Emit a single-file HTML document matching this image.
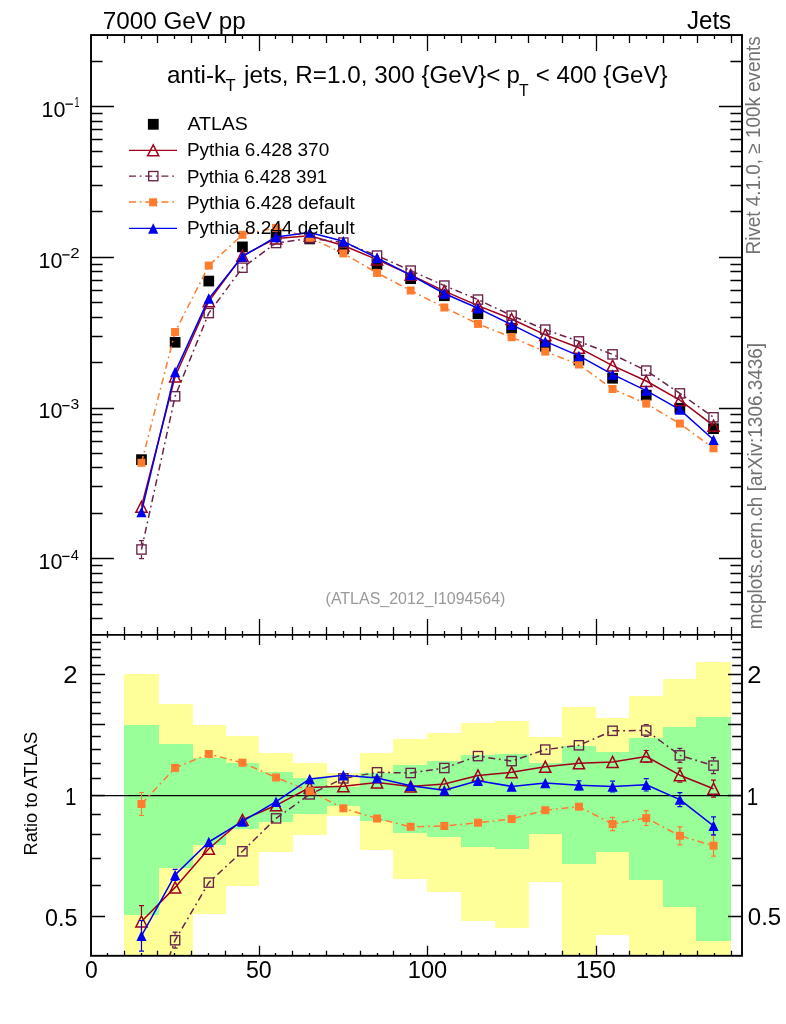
<!DOCTYPE html>
<html><head><meta charset="utf-8"><style>
html,body{margin:0;padding:0;background:#fff;width:786px;height:1024px;overflow:hidden;}
svg{display:block;will-change:transform;font-family:"Liberation Sans",sans-serif;}
</style></head><body>
<svg width="786" height="1024" viewBox="0 0 786 1024" font-family="Liberation Sans, sans-serif">
<rect width="786" height="1024" fill="#fff"/>
<defs><clipPath id="cu"><rect x="91.0" y="35.05" width="651.0" height="599.85"/></clipPath><clipPath id="cl"><rect x="91.0" y="634.9" width="651.0" height="320.9"/></clipPath></defs>
<g clip-path="url(#cl)">
<path d="M124,674H159V960H124ZM159,704H193V960H159ZM193,725H226V914H193ZM226,736H259V886H226ZM259,753H293V852H259ZM293,763H327V835H293ZM327,773H360V816H327ZM360,753H393V850H360ZM393,739H427V879H393ZM427,733H461V892H427ZM461,723H495V921H461ZM495,721H529V928H495ZM529,737H562V882H529ZM562,707H596V960H562ZM596,718H629V935H596ZM629,696H663V960H629ZM663,679H696V960H663ZM696,662H731V960H696Z" fill="#ffff99" shape-rendering="crispEdges"/>
<path d="M124,725H159V915H124ZM159,744H193V868H159ZM193,758H226V845H193ZM226,763H259V829H226ZM259,772H293V822H259ZM293,778H327V814H293ZM327,787H360V806H327ZM360,773H393V821H360ZM393,765H427V833H393ZM427,761H461V837H427ZM461,755H495V847H461ZM495,754H529V849H495ZM529,763H562V834H529ZM562,746H596V864H562ZM596,752H629V852H596ZM629,738H663V880H629ZM663,727H696V907H663ZM696,717H731V941H696Z" fill="#99ff99" shape-rendering="crispEdges"/>
<line x1="91.0" y1="795.6" x2="742.0" y2="795.6" stroke="#000" stroke-width="1.2"/>
</g>
<g clip-path="url(#cu)">
<rect x="136.12" y="454.29" width="10.7" height="10.7" fill="#000"/>
<rect x="169.78" y="336.94" width="10.7" height="10.7" fill="#000"/>
<rect x="203.43" y="275.72" width="10.7" height="10.7" fill="#000"/>
<rect x="237.08" y="241.52" width="10.7" height="10.7" fill="#000"/>
<rect x="270.73" y="229.28" width="10.7" height="10.7" fill="#000"/>
<rect x="304.38" y="233.59" width="10.7" height="10.7" fill="#000"/>
<rect x="338.02" y="243.54" width="10.7" height="10.7" fill="#000"/>
<rect x="371.68" y="259.06" width="10.7" height="10.7" fill="#000"/>
<rect x="405.32" y="273.36" width="10.7" height="10.7" fill="#000"/>
<rect x="438.98" y="290.39" width="10.7" height="10.7" fill="#000"/>
<rect x="472.62" y="308.43" width="10.7" height="10.7" fill="#000"/>
<rect x="506.27" y="322.85" width="10.7" height="10.7" fill="#000"/>
<rect x="539.93" y="340.85" width="10.7" height="10.7" fill="#000"/>
<rect x="573.57" y="354.70" width="10.7" height="10.7" fill="#000"/>
<rect x="607.23" y="372.90" width="10.7" height="10.7" fill="#000"/>
<rect x="640.88" y="389.75" width="10.7" height="10.7" fill="#000"/>
<rect x="674.52" y="402.88" width="10.7" height="10.7" fill="#000"/>
<rect x="708.18" y="423.34" width="10.7" height="10.7" fill="#000"/>
<polyline points="141.47,506.80 175.12,376.50 208.78,301.20 242.43,255.70 276.08,238.40 309.73,235.80 343.38,245.50 377.03,259.60 410.68,274.80 444.33,291.10 477.98,305.60 511.62,319.00 545.28,334.90 578.92,347.80 612.58,365.60 646.23,381.00 679.88,400.20 713.53,425.70" fill="none" stroke="#a0001c" stroke-width="1.5" stroke-linejoin="round"/>
<polygon points="141.47,501.30 147.07,512.30 135.88,512.30" fill="none" stroke="#a0001c" stroke-width="1.5" stroke-linejoin="miter"/>
<polygon points="175.12,371.00 180.72,382.00 169.53,382.00" fill="none" stroke="#a0001c" stroke-width="1.5" stroke-linejoin="miter"/>
<polygon points="208.78,295.70 214.38,306.70 203.18,306.70" fill="none" stroke="#a0001c" stroke-width="1.5" stroke-linejoin="miter"/>
<polygon points="242.43,250.20 248.03,261.20 236.83,261.20" fill="none" stroke="#a0001c" stroke-width="1.5" stroke-linejoin="miter"/>
<polygon points="276.08,232.90 281.68,243.90 270.48,243.90" fill="none" stroke="#a0001c" stroke-width="1.5" stroke-linejoin="miter"/>
<polygon points="309.73,230.30 315.33,241.30 304.12,241.30" fill="none" stroke="#a0001c" stroke-width="1.5" stroke-linejoin="miter"/>
<polygon points="343.38,240.00 348.98,251.00 337.77,251.00" fill="none" stroke="#a0001c" stroke-width="1.5" stroke-linejoin="miter"/>
<polygon points="377.03,254.10 382.63,265.10 371.43,265.10" fill="none" stroke="#a0001c" stroke-width="1.5" stroke-linejoin="miter"/>
<polygon points="410.68,269.30 416.28,280.30 405.07,280.30" fill="none" stroke="#a0001c" stroke-width="1.5" stroke-linejoin="miter"/>
<polygon points="444.33,285.60 449.93,296.60 438.73,296.60" fill="none" stroke="#a0001c" stroke-width="1.5" stroke-linejoin="miter"/>
<polygon points="477.98,300.10 483.58,311.10 472.38,311.10" fill="none" stroke="#a0001c" stroke-width="1.5" stroke-linejoin="miter"/>
<polygon points="511.62,313.50 517.23,324.50 506.02,324.50" fill="none" stroke="#a0001c" stroke-width="1.5" stroke-linejoin="miter"/>
<polygon points="545.28,329.40 550.88,340.40 539.68,340.40" fill="none" stroke="#a0001c" stroke-width="1.5" stroke-linejoin="miter"/>
<polygon points="578.92,342.30 584.52,353.30 573.32,353.30" fill="none" stroke="#a0001c" stroke-width="1.5" stroke-linejoin="miter"/>
<polygon points="612.58,360.10 618.18,371.10 606.98,371.10" fill="none" stroke="#a0001c" stroke-width="1.5" stroke-linejoin="miter"/>
<polygon points="646.23,375.50 651.83,386.50 640.62,386.50" fill="none" stroke="#a0001c" stroke-width="1.5" stroke-linejoin="miter"/>
<polygon points="679.88,394.70 685.48,405.70 674.27,405.70" fill="none" stroke="#a0001c" stroke-width="1.5" stroke-linejoin="miter"/>
<polygon points="713.53,420.20 719.13,431.20 707.93,431.20" fill="none" stroke="#a0001c" stroke-width="1.5" stroke-linejoin="miter"/>
<polyline points="141.47,549.50 175.12,396.30 208.78,313.10 242.43,267.70 276.08,243.00 309.73,238.30 343.38,242.60 377.03,255.60 410.68,270.60 444.33,285.60 477.98,299.60 511.62,315.60 545.28,329.60 578.92,341.40 612.58,354.40 646.23,370.60 679.88,393.40 713.53,417.30" fill="none" stroke="#6a2249" stroke-width="1.5" stroke-dasharray="7 3.7 1.8 3.7" stroke-linejoin="round"/>
<path d="M138.97,540.60H143.97M138.97,558.60H143.97M141.47,540.60V544.20M141.47,555.00V558.60" stroke="#6a2249" stroke-width="1.2" fill="none"/>
<rect x="136.85" y="544.88" width="9.25" height="9.25" fill="none" stroke="#6a2249" stroke-width="1.35"/>
<rect x="170.50" y="391.68" width="9.25" height="9.25" fill="none" stroke="#6a2249" stroke-width="1.35"/>
<rect x="204.15" y="308.48" width="9.25" height="9.25" fill="none" stroke="#6a2249" stroke-width="1.35"/>
<rect x="237.80" y="263.07" width="9.25" height="9.25" fill="none" stroke="#6a2249" stroke-width="1.35"/>
<rect x="271.45" y="238.38" width="9.25" height="9.25" fill="none" stroke="#6a2249" stroke-width="1.35"/>
<rect x="305.10" y="233.68" width="9.25" height="9.25" fill="none" stroke="#6a2249" stroke-width="1.35"/>
<rect x="338.75" y="237.97" width="9.25" height="9.25" fill="none" stroke="#6a2249" stroke-width="1.35"/>
<rect x="372.40" y="250.97" width="9.25" height="9.25" fill="none" stroke="#6a2249" stroke-width="1.35"/>
<rect x="406.05" y="265.98" width="9.25" height="9.25" fill="none" stroke="#6a2249" stroke-width="1.35"/>
<rect x="439.70" y="280.98" width="9.25" height="9.25" fill="none" stroke="#6a2249" stroke-width="1.35"/>
<rect x="473.35" y="294.98" width="9.25" height="9.25" fill="none" stroke="#6a2249" stroke-width="1.35"/>
<rect x="507.00" y="310.98" width="9.25" height="9.25" fill="none" stroke="#6a2249" stroke-width="1.35"/>
<rect x="540.65" y="324.98" width="9.25" height="9.25" fill="none" stroke="#6a2249" stroke-width="1.35"/>
<rect x="574.30" y="336.77" width="9.25" height="9.25" fill="none" stroke="#6a2249" stroke-width="1.35"/>
<rect x="607.95" y="349.77" width="9.25" height="9.25" fill="none" stroke="#6a2249" stroke-width="1.35"/>
<rect x="641.60" y="365.98" width="9.25" height="9.25" fill="none" stroke="#6a2249" stroke-width="1.35"/>
<rect x="675.25" y="388.77" width="9.25" height="9.25" fill="none" stroke="#6a2249" stroke-width="1.35"/>
<rect x="708.90" y="412.68" width="9.25" height="9.25" fill="none" stroke="#6a2249" stroke-width="1.35"/>
<polyline points="141.47,462.80 175.12,332.00 208.78,265.60 242.43,234.80 276.08,227.90 309.73,237.80 343.38,253.40 377.03,272.90 410.68,290.50 444.33,307.50 477.98,323.90 511.62,337.20 545.28,351.60 578.92,364.50 612.58,389.00 646.23,403.60 679.88,423.60 713.53,448.30" fill="none" stroke="#ff7b2e" stroke-width="1.5" stroke-dasharray="7 3.7 1.8 3.7" stroke-linejoin="round"/>
<rect x="137.47" y="458.80" width="8" height="8" fill="#ff7b2e"/>
<rect x="171.12" y="328.00" width="8" height="8" fill="#ff7b2e"/>
<rect x="204.78" y="261.60" width="8" height="8" fill="#ff7b2e"/>
<rect x="238.43" y="230.80" width="8" height="8" fill="#ff7b2e"/>
<rect x="272.08" y="223.90" width="8" height="8" fill="#ff7b2e"/>
<rect x="305.73" y="233.80" width="8" height="8" fill="#ff7b2e"/>
<rect x="339.38" y="249.40" width="8" height="8" fill="#ff7b2e"/>
<rect x="373.03" y="268.90" width="8" height="8" fill="#ff7b2e"/>
<rect x="406.68" y="286.50" width="8" height="8" fill="#ff7b2e"/>
<rect x="440.33" y="303.50" width="8" height="8" fill="#ff7b2e"/>
<rect x="473.98" y="319.90" width="8" height="8" fill="#ff7b2e"/>
<rect x="507.62" y="333.20" width="8" height="8" fill="#ff7b2e"/>
<rect x="541.28" y="347.60" width="8" height="8" fill="#ff7b2e"/>
<rect x="574.92" y="360.50" width="8" height="8" fill="#ff7b2e"/>
<rect x="608.58" y="385.00" width="8" height="8" fill="#ff7b2e"/>
<rect x="642.23" y="399.60" width="8" height="8" fill="#ff7b2e"/>
<rect x="675.88" y="419.60" width="8" height="8" fill="#ff7b2e"/>
<rect x="709.53" y="444.30" width="8" height="8" fill="#ff7b2e"/>
<polyline points="141.47,512.00 175.12,372.10 208.78,298.60 242.43,256.50 276.08,236.90 309.73,232.50 343.38,241.30 377.03,257.90 410.68,275.10 444.33,293.50 477.98,308.30 511.62,324.70 545.28,341.40 578.92,355.90 612.58,374.40 646.23,390.60 679.88,409.60 713.53,439.70" fill="none" stroke="#0000f0" stroke-width="1.5" stroke-linejoin="round"/>
<polygon points="141.47,506.75 146.57,517.25 136.38,517.25" fill="#0000f0"/>
<polygon points="175.12,366.85 180.22,377.35 170.03,377.35" fill="#0000f0"/>
<polygon points="208.78,293.35 213.88,303.85 203.68,303.85" fill="#0000f0"/>
<polygon points="242.43,251.25 247.53,261.75 237.33,261.75" fill="#0000f0"/>
<polygon points="276.08,231.65 281.18,242.15 270.98,242.15" fill="#0000f0"/>
<polygon points="309.73,227.25 314.83,237.75 304.62,237.75" fill="#0000f0"/>
<polygon points="343.38,236.05 348.48,246.55 338.27,246.55" fill="#0000f0"/>
<polygon points="377.03,252.65 382.13,263.15 371.93,263.15" fill="#0000f0"/>
<polygon points="410.68,269.85 415.78,280.35 405.57,280.35" fill="#0000f0"/>
<polygon points="444.33,288.25 449.43,298.75 439.23,298.75" fill="#0000f0"/>
<polygon points="477.98,303.05 483.08,313.55 472.88,313.55" fill="#0000f0"/>
<polygon points="511.62,319.45 516.73,329.95 506.52,329.95" fill="#0000f0"/>
<polygon points="545.28,336.15 550.38,346.65 540.18,346.65" fill="#0000f0"/>
<polygon points="578.92,350.65 584.02,361.15 573.82,361.15" fill="#0000f0"/>
<polygon points="612.58,369.15 617.68,379.65 607.48,379.65" fill="#0000f0"/>
<polygon points="646.23,385.35 651.33,395.85 641.12,395.85" fill="#0000f0"/>
<polygon points="679.88,404.35 684.98,414.85 674.77,414.85" fill="#0000f0"/>
<polygon points="713.53,434.45 718.63,444.95 708.43,444.95" fill="#0000f0"/>
</g>
<g clip-path="url(#cl)">
<polyline points="141.47,921.50 175.12,887.40 208.78,848.70 242.43,819.80 276.08,805.30 309.73,787.50 343.38,786.30 377.03,782.40 410.68,786.60 444.33,784.00 477.98,775.40 511.62,772.30 545.28,766.70 578.92,763.30 612.58,761.90 646.23,756.50 679.88,775.20 713.53,788.70" fill="none" stroke="#a0001c" stroke-width="1.5" stroke-linejoin="round"/>
<path d="M138.97,905.70H143.97M138.97,937.30H143.97M141.47,905.70V915.30M141.47,927.70V937.30" stroke="#a0001c" stroke-width="1.2" fill="none"/>
<polygon points="141.47,916.00 147.07,927.00 135.88,927.00" fill="none" stroke="#a0001c" stroke-width="1.5" stroke-linejoin="miter"/>
<polygon points="175.12,881.90 180.72,892.90 169.53,892.90" fill="none" stroke="#a0001c" stroke-width="1.5" stroke-linejoin="miter"/>
<polygon points="208.78,843.20 214.38,854.20 203.18,854.20" fill="none" stroke="#a0001c" stroke-width="1.5" stroke-linejoin="miter"/>
<polygon points="242.43,814.30 248.03,825.30 236.83,825.30" fill="none" stroke="#a0001c" stroke-width="1.5" stroke-linejoin="miter"/>
<polygon points="276.08,799.80 281.68,810.80 270.48,810.80" fill="none" stroke="#a0001c" stroke-width="1.5" stroke-linejoin="miter"/>
<polygon points="309.73,782.00 315.33,793.00 304.12,793.00" fill="none" stroke="#a0001c" stroke-width="1.5" stroke-linejoin="miter"/>
<polygon points="343.38,780.80 348.98,791.80 337.77,791.80" fill="none" stroke="#a0001c" stroke-width="1.5" stroke-linejoin="miter"/>
<polygon points="377.03,776.90 382.63,787.90 371.43,787.90" fill="none" stroke="#a0001c" stroke-width="1.5" stroke-linejoin="miter"/>
<polygon points="410.68,781.10 416.28,792.10 405.07,792.10" fill="none" stroke="#a0001c" stroke-width="1.5" stroke-linejoin="miter"/>
<polygon points="444.33,778.50 449.93,789.50 438.73,789.50" fill="none" stroke="#a0001c" stroke-width="1.5" stroke-linejoin="miter"/>
<polygon points="477.98,769.90 483.58,780.90 472.38,780.90" fill="none" stroke="#a0001c" stroke-width="1.5" stroke-linejoin="miter"/>
<polygon points="511.62,766.80 517.23,777.80 506.02,777.80" fill="none" stroke="#a0001c" stroke-width="1.5" stroke-linejoin="miter"/>
<polygon points="545.28,761.20 550.88,772.20 539.68,772.20" fill="none" stroke="#a0001c" stroke-width="1.5" stroke-linejoin="miter"/>
<polygon points="578.92,757.80 584.52,768.80 573.32,768.80" fill="none" stroke="#a0001c" stroke-width="1.5" stroke-linejoin="miter"/>
<polygon points="612.58,756.40 618.18,767.40 606.98,767.40" fill="none" stroke="#a0001c" stroke-width="1.5" stroke-linejoin="miter"/>
<path d="M643.73,750.50H648.73M643.73,762.50H648.73" stroke="#a0001c" stroke-width="1.2" fill="none"/>
<polygon points="646.23,751.00 651.83,762.00 640.62,762.00" fill="none" stroke="#a0001c" stroke-width="1.5" stroke-linejoin="miter"/>
<path d="M677.38,768.20H682.38M677.38,782.20H682.38M679.88,768.20V769.00M679.88,781.40V782.20" stroke="#a0001c" stroke-width="1.2" fill="none"/>
<polygon points="679.88,769.70 685.48,780.70 674.27,780.70" fill="none" stroke="#a0001c" stroke-width="1.5" stroke-linejoin="miter"/>
<path d="M711.03,780.20H716.03M711.03,797.20H716.03M713.53,780.20V782.50M713.53,794.90V797.20" stroke="#a0001c" stroke-width="1.2" fill="none"/>
<polygon points="713.53,783.20 719.13,794.20 707.93,794.20" fill="none" stroke="#a0001c" stroke-width="1.5" stroke-linejoin="miter"/>
<polyline points="141.47,1034.00 175.12,940.20 208.78,882.60 242.43,851.30 276.08,818.40 309.73,794.40 343.38,778.40 377.03,772.30 410.68,773.00 444.33,768.00 477.98,756.10 511.62,761.10 545.28,749.60 578.92,745.30 612.58,730.80 646.23,730.50 679.88,755.40 713.53,765.60" fill="none" stroke="#6a2249" stroke-width="1.5" stroke-dasharray="7 3.7 1.8 3.7" stroke-linejoin="round"/>
<rect x="136.85" y="1029.38" width="9.25" height="9.25" fill="none" stroke="#6a2249" stroke-width="1.35"/>
<path d="M172.62,932.20H177.62M172.62,948.20H177.62M175.12,932.20V934.80M175.12,945.60V948.20" stroke="#6a2249" stroke-width="1.2" fill="none"/>
<rect x="170.50" y="935.58" width="9.25" height="9.25" fill="none" stroke="#6a2249" stroke-width="1.35"/>
<rect x="204.15" y="877.98" width="9.25" height="9.25" fill="none" stroke="#6a2249" stroke-width="1.35"/>
<rect x="237.80" y="846.67" width="9.25" height="9.25" fill="none" stroke="#6a2249" stroke-width="1.35"/>
<rect x="271.45" y="813.77" width="9.25" height="9.25" fill="none" stroke="#6a2249" stroke-width="1.35"/>
<rect x="305.10" y="789.77" width="9.25" height="9.25" fill="none" stroke="#6a2249" stroke-width="1.35"/>
<rect x="338.75" y="773.77" width="9.25" height="9.25" fill="none" stroke="#6a2249" stroke-width="1.35"/>
<rect x="372.40" y="767.67" width="9.25" height="9.25" fill="none" stroke="#6a2249" stroke-width="1.35"/>
<rect x="406.05" y="768.38" width="9.25" height="9.25" fill="none" stroke="#6a2249" stroke-width="1.35"/>
<rect x="439.70" y="763.38" width="9.25" height="9.25" fill="none" stroke="#6a2249" stroke-width="1.35"/>
<rect x="473.35" y="751.48" width="9.25" height="9.25" fill="none" stroke="#6a2249" stroke-width="1.35"/>
<rect x="507.00" y="756.48" width="9.25" height="9.25" fill="none" stroke="#6a2249" stroke-width="1.35"/>
<rect x="540.65" y="744.98" width="9.25" height="9.25" fill="none" stroke="#6a2249" stroke-width="1.35"/>
<rect x="574.30" y="740.67" width="9.25" height="9.25" fill="none" stroke="#6a2249" stroke-width="1.35"/>
<rect x="607.95" y="726.17" width="9.25" height="9.25" fill="none" stroke="#6a2249" stroke-width="1.35"/>
<path d="M643.73,724.50H648.73M643.73,736.50H648.73M646.23,724.50V725.10M646.23,735.90V736.50" stroke="#6a2249" stroke-width="1.2" fill="none"/>
<rect x="641.60" y="725.88" width="9.25" height="9.25" fill="none" stroke="#6a2249" stroke-width="1.35"/>
<path d="M677.38,748.40H682.38M677.38,762.40H682.38M679.88,748.40V750.00M679.88,760.80V762.40" stroke="#6a2249" stroke-width="1.2" fill="none"/>
<rect x="675.25" y="750.77" width="9.25" height="9.25" fill="none" stroke="#6a2249" stroke-width="1.35"/>
<path d="M711.03,757.60H716.03M711.03,773.60H716.03M713.53,757.60V760.20M713.53,771.00V773.60" stroke="#6a2249" stroke-width="1.2" fill="none"/>
<rect x="708.90" y="760.98" width="9.25" height="9.25" fill="none" stroke="#6a2249" stroke-width="1.35"/>
<polyline points="141.47,804.00 175.12,767.90 208.78,754.00 242.43,762.70 276.08,777.50 309.73,791.20 343.38,808.30 377.03,818.50 410.68,826.80 444.33,826.00 477.98,822.70 511.62,819.00 545.28,810.20 578.92,806.70 612.58,824.00 646.23,818.10 679.88,835.80 713.53,845.70" fill="none" stroke="#ff7b2e" stroke-width="1.5" stroke-dasharray="7 3.7 1.8 3.7" stroke-linejoin="round"/>
<path d="M138.97,792.50H143.97M138.97,815.50H143.97M141.47,792.50V800.00M141.47,808.00V815.50" stroke="#ff7b2e" stroke-width="1.2" fill="none"/>
<rect x="137.47" y="800.00" width="8" height="8" fill="#ff7b2e"/>
<rect x="171.12" y="763.90" width="8" height="8" fill="#ff7b2e"/>
<rect x="204.78" y="750.00" width="8" height="8" fill="#ff7b2e"/>
<rect x="238.43" y="758.70" width="8" height="8" fill="#ff7b2e"/>
<rect x="272.08" y="773.50" width="8" height="8" fill="#ff7b2e"/>
<rect x="305.73" y="787.20" width="8" height="8" fill="#ff7b2e"/>
<rect x="339.38" y="804.30" width="8" height="8" fill="#ff7b2e"/>
<rect x="373.03" y="814.50" width="8" height="8" fill="#ff7b2e"/>
<rect x="406.68" y="822.80" width="8" height="8" fill="#ff7b2e"/>
<rect x="440.33" y="822.00" width="8" height="8" fill="#ff7b2e"/>
<rect x="473.98" y="818.70" width="8" height="8" fill="#ff7b2e"/>
<rect x="507.62" y="815.00" width="8" height="8" fill="#ff7b2e"/>
<rect x="541.28" y="806.20" width="8" height="8" fill="#ff7b2e"/>
<rect x="574.92" y="802.70" width="8" height="8" fill="#ff7b2e"/>
<path d="M610.08,817.30H615.08M610.08,830.70H615.08M612.58,817.30V820.00M612.58,828.00V830.70" stroke="#ff7b2e" stroke-width="1.2" fill="none"/>
<rect x="608.58" y="820.00" width="8" height="8" fill="#ff7b2e"/>
<path d="M643.73,810.70H648.73M643.73,825.50H648.73M646.23,810.70V814.10M646.23,822.10V825.50" stroke="#ff7b2e" stroke-width="1.2" fill="none"/>
<rect x="642.23" y="814.10" width="8" height="8" fill="#ff7b2e"/>
<path d="M677.38,826.80H682.38M677.38,844.80H682.38M679.88,826.80V831.80M679.88,839.80V844.80" stroke="#ff7b2e" stroke-width="1.2" fill="none"/>
<rect x="675.88" y="831.80" width="8" height="8" fill="#ff7b2e"/>
<path d="M711.03,835.30H716.03M711.03,856.10H716.03M713.53,835.30V841.70M713.53,849.70V856.10" stroke="#ff7b2e" stroke-width="1.2" fill="none"/>
<rect x="709.53" y="841.70" width="8" height="8" fill="#ff7b2e"/>
<polyline points="141.47,935.80 175.12,874.90 208.78,842.00 242.43,821.40 276.08,801.70 309.73,778.90 343.38,775.30 377.03,778.10 410.68,785.70 444.33,790.30 477.98,780.80 511.62,786.40 545.28,782.90 578.92,785.30 612.58,786.60 646.23,784.80 679.88,799.60 713.53,825.80" fill="none" stroke="#0000f0" stroke-width="1.5" stroke-linejoin="round"/>
<path d="M138.97,920.50H143.97M138.97,951.10H143.97M141.47,920.50V930.60M141.47,941.00V951.10" stroke="#0000f0" stroke-width="1.2" fill="none"/>
<polygon points="141.47,930.55 146.57,941.05 136.38,941.05" fill="#0000f0"/>
<path d="M172.62,869.40H177.62M172.62,880.40H177.62M175.12,869.40V869.70M175.12,880.10V880.40" stroke="#0000f0" stroke-width="1.2" fill="none"/>
<polygon points="175.12,869.65 180.22,880.15 170.03,880.15" fill="#0000f0"/>
<polygon points="208.78,836.75 213.88,847.25 203.68,847.25" fill="#0000f0"/>
<polygon points="242.43,816.15 247.53,826.65 237.33,826.65" fill="#0000f0"/>
<polygon points="276.08,796.45 281.18,806.95 270.98,806.95" fill="#0000f0"/>
<polygon points="309.73,773.65 314.83,784.15 304.62,784.15" fill="#0000f0"/>
<polygon points="343.38,770.05 348.48,780.55 338.27,780.55" fill="#0000f0"/>
<polygon points="377.03,772.85 382.13,783.35 371.93,783.35" fill="#0000f0"/>
<polygon points="410.68,780.45 415.78,790.95 405.57,790.95" fill="#0000f0"/>
<polygon points="444.33,785.05 449.43,795.55 439.23,795.55" fill="#0000f0"/>
<polygon points="477.98,775.55 483.08,786.05 472.88,786.05" fill="#0000f0"/>
<polygon points="511.62,781.15 516.73,791.65 506.52,791.65" fill="#0000f0"/>
<polygon points="545.28,777.65 550.38,788.15 540.18,788.15" fill="#0000f0"/>
<path d="M576.42,780.80H581.42M576.42,789.80H581.42" stroke="#0000f0" stroke-width="1.2" fill="none"/>
<polygon points="578.92,780.05 584.02,790.55 573.82,790.55" fill="#0000f0"/>
<path d="M610.08,781.20H615.08M610.08,792.00H615.08M612.58,781.20V781.40M612.58,791.80V792.00" stroke="#0000f0" stroke-width="1.2" fill="none"/>
<polygon points="612.58,781.35 617.68,791.85 607.48,791.85" fill="#0000f0"/>
<path d="M643.73,778.60H648.73M643.73,791.00H648.73M646.23,778.60V779.60M646.23,790.00V791.00" stroke="#0000f0" stroke-width="1.2" fill="none"/>
<polygon points="646.23,779.55 651.33,790.05 641.12,790.05" fill="#0000f0"/>
<path d="M677.38,792.60H682.38M677.38,806.60H682.38M679.88,792.60V794.40M679.88,804.80V806.60" stroke="#0000f0" stroke-width="1.2" fill="none"/>
<polygon points="679.88,794.35 684.98,804.85 674.77,804.85" fill="#0000f0"/>
<path d="M711.03,816.80H716.03M711.03,834.80H716.03M713.53,816.80V820.60M713.53,831.00V834.80" stroke="#0000f0" stroke-width="1.2" fill="none"/>
<polygon points="713.53,820.55 718.63,831.05 708.43,831.05" fill="#0000f0"/>
</g>
<path d="M107.50,35.05L107.50,39.05M107.50,634.90L107.50,630.90M107.50,634.90L107.50,637.70M107.50,955.80L107.50,953.00M124.50,35.05L124.50,43.05M124.50,634.90L124.50,626.90M124.50,634.90L124.50,639.90M124.50,955.80L124.50,950.80M141.50,35.05L141.50,39.05M141.50,634.90L141.50,630.90M141.50,634.90L141.50,637.70M141.50,955.80L141.50,953.00M157.50,35.05L157.50,43.05M157.50,634.90L157.50,626.90M157.50,634.90L157.50,639.90M157.50,955.80L157.50,950.80M174.50,35.05L174.50,39.05M174.50,634.90L174.50,630.90M174.50,634.90L174.50,637.70M174.50,955.80L174.50,953.00M191.50,35.05L191.50,43.05M191.50,634.90L191.50,626.90M191.50,634.90L191.50,639.90M191.50,955.80L191.50,950.80M208.50,35.05L208.50,39.05M208.50,634.90L208.50,630.90M208.50,634.90L208.50,637.70M208.50,955.80L208.50,953.00M225.50,35.05L225.50,43.05M225.50,634.90L225.50,626.90M225.50,634.90L225.50,639.90M225.50,955.80L225.50,950.80M242.50,35.05L242.50,39.05M242.50,634.90L242.50,630.90M242.50,634.90L242.50,637.70M242.50,955.80L242.50,953.00M259.50,35.05L259.50,51.05M259.50,634.90L259.50,618.90M259.50,634.90L259.50,644.90M259.50,955.80L259.50,945.80M275.50,35.05L275.50,39.05M275.50,634.90L275.50,630.90M275.50,634.90L275.50,637.70M275.50,955.80L275.50,953.00M292.50,35.05L292.50,43.05M292.50,634.90L292.50,626.90M292.50,634.90L292.50,639.90M292.50,955.80L292.50,950.80M309.50,35.05L309.50,39.05M309.50,634.90L309.50,630.90M309.50,634.90L309.50,637.70M309.50,955.80L309.50,953.00M326.50,35.05L326.50,43.05M326.50,634.90L326.50,626.90M326.50,634.90L326.50,639.90M326.50,955.80L326.50,950.80M343.50,35.05L343.50,39.05M343.50,634.90L343.50,630.90M343.50,634.90L343.50,637.70M343.50,955.80L343.50,953.00M360.50,35.05L360.50,43.05M360.50,634.90L360.50,626.90M360.50,634.90L360.50,639.90M360.50,955.80L360.50,950.80M377.50,35.05L377.50,39.05M377.50,634.90L377.50,630.90M377.50,634.90L377.50,637.70M377.50,955.80L377.50,953.00M393.50,35.05L393.50,43.05M393.50,634.90L393.50,626.90M393.50,634.90L393.50,639.90M393.50,955.80L393.50,950.80M410.50,35.05L410.50,39.05M410.50,634.90L410.50,630.90M410.50,634.90L410.50,637.70M410.50,955.80L410.50,953.00M427.50,35.05L427.50,51.05M427.50,634.90L427.50,618.90M427.50,634.90L427.50,644.90M427.50,955.80L427.50,945.80M444.50,35.05L444.50,39.05M444.50,634.90L444.50,630.90M444.50,634.90L444.50,637.70M444.50,955.80L444.50,953.00M461.50,35.05L461.50,43.05M461.50,634.90L461.50,626.90M461.50,634.90L461.50,639.90M461.50,955.80L461.50,950.80M478.50,35.05L478.50,39.05M478.50,634.90L478.50,630.90M478.50,634.90L478.50,637.70M478.50,955.80L478.50,953.00M495.50,35.05L495.50,43.05M495.50,634.90L495.50,626.90M495.50,634.90L495.50,639.90M495.50,955.80L495.50,950.80M511.50,35.05L511.50,39.05M511.50,634.90L511.50,630.90M511.50,634.90L511.50,637.70M511.50,955.80L511.50,953.00M528.50,35.05L528.50,43.05M528.50,634.90L528.50,626.90M528.50,634.90L528.50,639.90M528.50,955.80L528.50,950.80M545.50,35.05L545.50,39.05M545.50,634.90L545.50,630.90M545.50,634.90L545.50,637.70M545.50,955.80L545.50,953.00M562.50,35.05L562.50,43.05M562.50,634.90L562.50,626.90M562.50,634.90L562.50,639.90M562.50,955.80L562.50,950.80M579.50,35.05L579.50,39.05M579.50,634.90L579.50,630.90M579.50,634.90L579.50,637.70M579.50,955.80L579.50,953.00M596.50,35.05L596.50,51.05M596.50,634.90L596.50,618.90M596.50,634.90L596.50,644.90M596.50,955.80L596.50,945.80M613.50,35.05L613.50,39.05M613.50,634.90L613.50,630.90M613.50,634.90L613.50,637.70M613.50,955.80L613.50,953.00M629.50,35.05L629.50,43.05M629.50,634.90L629.50,626.90M629.50,634.90L629.50,639.90M629.50,955.80L629.50,950.80M646.50,35.05L646.50,39.05M646.50,634.90L646.50,630.90M646.50,634.90L646.50,637.70M646.50,955.80L646.50,953.00M663.50,35.05L663.50,43.05M663.50,634.90L663.50,626.90M663.50,634.90L663.50,639.90M663.50,955.80L663.50,950.80M680.50,35.05L680.50,39.05M680.50,634.90L680.50,630.90M680.50,634.90L680.50,637.70M680.50,955.80L680.50,953.00M697.50,35.05L697.50,43.05M697.50,634.90L697.50,626.90M697.50,634.90L697.50,639.90M697.50,955.80L697.50,950.80M714.50,35.05L714.50,39.05M714.50,634.90L714.50,630.90M714.50,634.90L714.50,637.70M714.50,955.80L714.50,953.00M731.50,35.05L731.50,43.05M731.50,634.90L731.50,626.90M731.50,634.90L731.50,639.90M731.50,955.80L731.50,950.80M91.00,106.50L114.00,106.50M742.00,106.50L719.00,106.50M91.00,61.50L102.60,61.50M742.00,61.50L730.40,61.50M91.00,257.50L114.00,257.50M742.00,257.50L719.00,257.50M91.00,211.50L102.60,211.50M742.00,211.50L730.40,211.50M91.00,185.50L102.60,185.50M742.00,185.50L730.40,185.50M91.00,166.50L102.60,166.50M742.00,166.50L730.40,166.50M91.00,151.50L102.60,151.50M742.00,151.50L730.40,151.50M91.00,139.50L102.60,139.50M742.00,139.50L730.40,139.50M91.00,129.50L102.60,129.50M742.00,129.50L730.40,129.50M91.00,121.50L102.60,121.50M742.00,121.50L730.40,121.50M91.00,113.50L102.60,113.50M742.00,113.50L730.40,113.50M91.00,408.50L114.00,408.50M742.00,408.50L719.00,408.50M91.00,362.50L102.60,362.50M742.00,362.50L730.40,362.50M91.00,336.50L102.60,336.50M742.00,336.50L730.40,336.50M91.00,317.50L102.60,317.50M742.00,317.50L730.40,317.50M91.00,302.50L102.60,302.50M742.00,302.50L730.40,302.50M91.00,290.50L102.60,290.50M742.00,290.50L730.40,290.50M91.00,280.50L102.60,280.50M742.00,280.50L730.40,280.50M91.00,271.50L102.60,271.50M742.00,271.50L730.40,271.50M91.00,264.50L102.60,264.50M742.00,264.50L730.40,264.50M91.00,558.50L114.00,558.50M742.00,558.50L719.00,558.50M91.00,513.50L102.60,513.50M742.00,513.50L730.40,513.50M91.00,486.50L102.60,486.50M742.00,486.50L730.40,486.50M91.00,467.50L102.60,467.50M742.00,467.50L730.40,467.50M91.00,453.50L102.60,453.50M742.00,453.50L730.40,453.50M91.00,441.50L102.60,441.50M742.00,441.50L730.40,441.50M91.00,431.50L102.60,431.50M742.00,431.50L730.40,431.50M91.00,422.50L102.60,422.50M742.00,422.50L730.40,422.50M91.00,414.50L102.60,414.50M742.00,414.50L730.40,414.50M91.00,618.50L102.60,618.50M742.00,618.50L730.40,618.50M91.00,604.50L102.60,604.50M742.00,604.50L730.40,604.50M91.00,592.50L102.60,592.50M742.00,592.50L730.40,592.50M91.00,582.50L102.60,582.50M742.00,582.50L730.40,582.50M91.00,573.50L102.60,573.50M742.00,573.50L730.40,573.50M91.00,565.50L102.60,565.50M742.00,565.50L730.40,565.50M91.00,916.50L105.00,916.50M742.00,916.50L728.00,916.50M91.00,885.50L100.80,885.50M742.00,885.50L732.20,885.50M91.00,858.50L100.80,858.50M742.00,858.50L732.20,858.50M91.00,834.50L100.80,834.50M742.00,834.50L732.20,834.50M91.00,814.50L100.80,814.50M742.00,814.50L732.20,814.50M91.00,795.50L105.00,795.50M742.00,795.50L728.00,795.50M91.00,778.50L100.80,778.50M742.00,778.50L732.20,778.50M91.00,763.50L100.80,763.50M742.00,763.50L732.20,763.50M91.00,749.50L100.80,749.50M742.00,749.50L732.20,749.50M91.00,736.50L100.80,736.50M742.00,736.50L732.20,736.50M91.00,724.50L105.00,724.50M742.00,724.50L728.00,724.50M91.00,713.50L100.80,713.50M742.00,713.50L732.20,713.50M91.00,702.50L100.80,702.50M742.00,702.50L732.20,702.50M91.00,692.50L100.80,692.50M742.00,692.50L732.20,692.50M91.00,683.50L100.80,683.50M742.00,683.50L732.20,683.50M91.00,674.50L105.00,674.50M742.00,674.50L728.00,674.50M91.00,665.50L100.80,665.50M742.00,665.50L732.20,665.50M91.00,657.50L100.80,657.50M742.00,657.50L732.20,657.50M91.00,649.50L100.80,649.50M742.00,649.50L732.20,649.50M91.00,642.50L100.80,642.50M742.00,642.50L732.20,642.50" stroke="#000" stroke-width="1.3" fill="none"/>
<rect x="91.0" y="35.05" width="651.00" height="920.75" fill="none" stroke="#000" stroke-width="1.9"/>
<line x1="91.0" y1="634.9" x2="742.0" y2="634.9" stroke="#000" stroke-width="1.9"/>
<g transform="translate(102.84,29.20) scale(1.0104,1.03)"><text fill='#000' font-size='24'>7000 GeV pp</text></g>
<g transform="translate(686.90,29.00) scale(1.0071,1.04)"><text fill='#000' font-size='24'>Jets</text></g>
<g transform="translate(166.89,82.90) scale(1.0095,1.0)"><text fill='#000' font-size='24'>anti-k</text></g>
<g transform="translate(225.44,90.50) scale(1.0378,1.0)"><text fill='#000' font-size='16'>T</text></g>
<g transform="translate(244.01,82.90) scale(1.0117,1.0)"><text fill='#000' font-size='24'>jets, R=1.0, 300 {GeV}&lt;</text></g>
<g transform="translate(506.50,82.90) scale(1.0000,1.0)"><text fill='#000' font-size='24'>p</text></g>
<g transform="translate(518.95,95.60) scale(0.9838,1.0)"><text fill='#000' font-size='16'>T</text></g>
<g transform="translate(535.75,82.90) scale(1.0035,1.0)"><text fill='#000' font-size='24'>&lt; 400 {GeV}</text></g>
<g transform="translate(41.44,116.90) scale(0.9467,1.0)"><text fill='#000' font-size='22.7'>10</text></g>
<rect x="65.4" y="103.50" width="7.50" height="1.3" fill="#000"/>
<g transform="translate(74.59,107.30) scale(0.6080,1.0)"><text fill='#000' font-size='14.5'>1</text></g>
<g transform="translate(38.54,267.65) scale(0.9467,1.0)"><text fill='#000' font-size='22.7'>10</text></g>
<rect x="62.2" y="254.25" width="7.40" height="1.3" fill="#000"/>
<g transform="translate(70.22,258.05) scale(1.1692,1.0)"><text fill='#000' font-size='14.5'>2</text></g>
<g transform="translate(38.54,418.40) scale(0.9467,1.0)"><text fill='#000' font-size='22.7'>10</text></g>
<rect x="62.2" y="405.00" width="7.40" height="1.3" fill="#000"/>
<g transform="translate(70.56,408.80) scale(1.0857,1.0)"><text fill='#000' font-size='14.5'>3</text></g>
<g transform="translate(38.54,569.15) scale(0.9467,1.0)"><text fill='#000' font-size='22.7'>10</text></g>
<rect x="62.2" y="555.75" width="7.40" height="1.3" fill="#000"/>
<g transform="translate(70.85,559.55) scale(1.0133,1.0)"><text fill='#000' font-size='14.5'>4</text></g>
<g transform="translate(63.16,682.80) scale(1.0727,1.0)"><text fill='#000' font-size='24'>2</text></g>
<g transform="translate(65.00,804.90) scale(0.8571,1.0)"><text fill='#000' font-size='24'>1</text></g>
<g transform="translate(45.03,925.60) scale(0.9696,1.0)"><text fill='#000' font-size='24'>0.5</text></g>
<g transform="translate(747.17,682.80) scale(1.0636,1.0)"><text fill='#000' font-size='24'>2</text></g>
<g transform="translate(746.80,804.90) scale(0.8571,1.0)"><text fill='#000' font-size='24'>1</text></g>
<g transform="translate(747.80,925.40) scale(1.0016,1.0)"><text fill='#000' font-size='24'>0.5</text></g>
<g transform="translate(84.94,978.10) scale(0.9565,1.0)"><text fill='#000' font-size='24'>0</text></g>
<g transform="translate(245.93,978.10) scale(0.9657,1.0)"><text fill='#000' font-size='24'>50</text></g>
<g transform="translate(407.78,978.10) scale(0.9852,1.0)"><text fill='#000' font-size='24'>100</text></g>
<g transform="translate(575.84,978.10) scale(1.0040,1.0)"><text fill='#000' font-size='24'>150</text></g>
<g transform="translate(36.70,855.59) rotate(-90) scale(0.9906,1)"><text fill='#000' font-size='18.5'>Ratio to ATLAS</text></g>
<g transform="translate(760.00,254.45) rotate(-90) scale(0.9686,1)"><text fill='#727272' font-size='19.5'>Rivet 4.1.0, &#8805; 100k events</text></g>
<g transform="translate(762.00,629.21) rotate(-90) scale(0.9714,1)"><text fill='#727272' font-size='19.5'>mcplots.cern.ch [arXiv:1306.3436]</text></g>
<g transform="translate(325.60,603.80) scale(0.9980,1.0)"><text fill='#999' font-size='16'>(ATLAS_2012_I1094564)</text></g>
<rect x="147.90" y="118.90" width="10.8" height="10.8" fill="#000"/>
<line x1="129" y1="150.4" x2="177" y2="150.4" stroke="#a0001c" stroke-width="1.3"/>
<polygon points="153.20,144.80 158.80,155.80 147.60,155.80" fill="none" stroke="#a0001c" stroke-width="1.5" stroke-linejoin="miter"/>
<line x1="129" y1="176.1" x2="177" y2="176.1" stroke="#6a2249" stroke-width="1.3" stroke-dasharray="7 3.7 1.8 3.7"/>
<rect x="148.68" y="171.47" width="9.25" height="9.25" fill="none" stroke="#6a2249" stroke-width="1.35"/>
<line x1="129" y1="202.0" x2="177" y2="202.0" stroke="#ff7b2e" stroke-width="1.3" stroke-dasharray="7 3.7 1.8 3.7"/>
<rect x="149.10" y="198.30" width="8" height="8" fill="#ff7b2e"/>
<line x1="129" y1="228.4" x2="177" y2="228.4" stroke="#0000f0" stroke-width="1.3"/>
<polygon points="153.20,223.15 158.30,233.65 148.10,233.65" fill="#0000f0"/>
<g transform="translate(187.40,129.80) scale(1.0232,1.0)"><text fill='#000' font-size='19.1'>ATLAS</text></g>
<g transform="translate(186.91,155.80) scale(0.9936,1.0)"><text fill='#000' font-size='19.1'>Pythia 6.428 370</text></g>
<g transform="translate(186.93,182.60) scale(0.9790,1.0)"><text fill='#000' font-size='19.1'>Pythia 6.428 391</text></g>
<g transform="translate(186.91,208.80) scale(0.9943,1.0)"><text fill='#000' font-size='19.1'>Pythia 6.428 default</text></g>
<g transform="translate(186.91,233.70) scale(0.9943,1.0)"><text fill='#000' font-size='19.1'>Pythia 8.244 default</text></g>
</svg>
</body></html>
